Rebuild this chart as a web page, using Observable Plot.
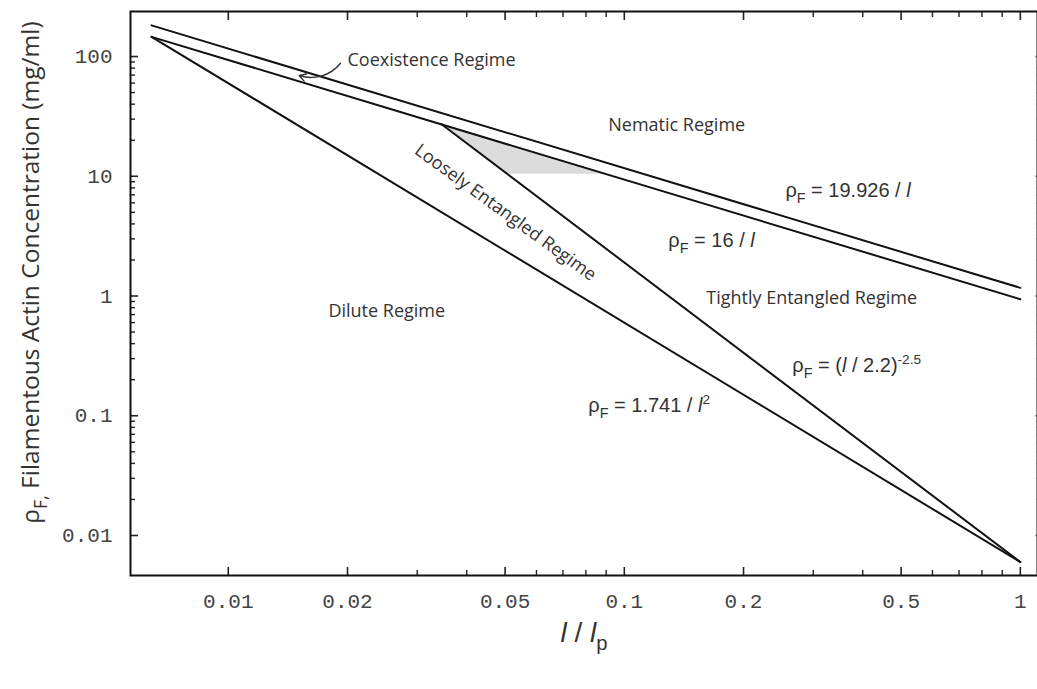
<!DOCTYPE html>
<html>
<head>
<meta charset="utf-8">
<script src="https://cdn.jsdelivr.net/npm/d3@7"></script>
<script src="https://cdn.jsdelivr.net/npm/@observablehq/plot@0.6"></script>
<style>
  body { margin: 0; background: #fff; }
  svg { display: block; }
</style>
</head>
<body>
<div id="chart"></div>
<script>
// Phase boundaries of F-actin solutions: concentration ρF (mg/ml) against ℓ/ℓp.
// Each boundary is a straight line on log–log axes, given by its two end points.
const nematicX = [0.0064, 1];      // ρF = 19.926 / ℓ
const nematicY = [182, 1.17];
const isotropicX = [0.0064, 1];    // ρF = 16 / ℓ
const isotropicY = [146, 0.94];
const diluteX = [0.0064, 1];       // ρF = 1.741 / ℓ²
const diluteY = [146, 0.0060];
const tightX = [0.0345, 1];        // ρF = (ℓ / 2.2)^-2.5
const tightY = [27.3, 0.0060];

// Shaded pocket between the tight-entanglement line, ρF = 16/ℓ and ρF ≈ 10
const shadeX = [0.0345, 0.0507, 0.0905];
const shadeLow = [27.3, 10.4, 10.4];
const shadeHigh = [27.3, 18.6, 10.4];

// Axis ticks and their labels
const xMajor = [0.01, 0.02, 0.05, 0.1, 0.2, 0.5, 1];
const xMajorLabels = ["0.01", "0.02", "0.05", "0.1", "0.2", "0.5", "1"];
const xMinor = [0.03, 0.04, 0.06, 0.07, 0.08, 0.09, 0.3, 0.4, 0.6, 0.7, 0.8, 0.9];
const yMajor = [0.01, 0.1, 1, 10, 100];
const yMajorLabels = ["0.01", "0.1", "1", "10", "100"];
const yMinor = [2, 3, 4, 5, 6, 7, 8, 9]
  .flatMap(m => [0.01, 0.1, 1, 10].map(d => +(m * d).toPrecision(3)));

// Region names and boundary formulas (markup: _{sub}, ^{sup}, *italic*)
const regimeLabels = [
  {text: "Coexistence Regime", x: 0.0200, y: 92.6},
  {text: "Nematic Regime", x: 0.0911, y: 26.5},
  {text: "Tightly Entangled Regime", x: 0.161, y: 0.953},
  {text: "Dilute Regime", x: 0.0179, y: 0.742}
];
const slantedLabel = [{text: "Loosely Entangled Regime", x: 0.0501, y: 4.98}];
const formulaLabels = [
  {text: "ρ_{F} = 19.926 / *l*", x: 0.2551, y: 7.60},
  {text: "ρ_{F} = 16 / *l*", x: 0.1292, y: 2.91},
  {text: "ρ_{F} = 1.741 / *l*^{2}", x: 0.0811, y: 0.1218},
  {text: "ρ_{F} = (*l* / 2.2)^{-2.5}", x: 0.2656, y: 0.2628}
];
const pointer = [{x1: 0.0192, y1: 87.9, x2: 0.0151, y2: 69.4}];

const boundaries = [
  ["nematic", nematicX, nematicY],
  ["isotropic", isotropicX, isotropicY],
  ["dilute", diluteX, diluteY],
  ["tight", tightX, tightY]
].flatMap(([name, xs, ys]) => xs.map((x, i) => ({name, x, y: ys[i]})));

const shade = shadeX.map((x, i) => ({x, lo: shadeLow[i], hi: shadeHigh[i]}));
const xTickRows = xMajor.map((x, i) => ({x, label: xMajorLabels[i]}));
const yTickRows = yMajor.map((y, i) => ({y, label: yMajorLabels[i]}));

const tickFont = "'Liberation Mono', 'DejaVu Sans Mono', monospace";
const labelFont = "'Open Sans', 'Noto Sans', sans-serif";
const formulaFont = "'Liberation Sans', Arial, sans-serif";
const ink = "#222";
const textInk = "#333";

const chart = Plot.plot({
  width: 1037,
  height: 689,
  marginLeft: 130,
  marginRight: 0,
  marginTop: 11,
  marginBottom: 114,
  x: {type: "log", domain: [0.005663, 1.105]},
  y: {type: "log", domain: [0.004634, 237.7]},
  style: {background: "#fff"},
  marks: [
    Plot.areaY(shade, {x: "x", y1: "lo", y2: "hi", fill: "#dcdcdc"}),
    Plot.line(boundaries, {x: "x", y: "y", z: "name", stroke: "#111", strokeWidth: 2}),

    // inward tick marks on all four sides
    Plot.axisX({anchor: "bottom", ticks: xMajor, tickSize: -8, text: null, stroke: ink, strokeWidth: 1.6, label: null}),
    Plot.axisX({anchor: "bottom", ticks: xMinor, tickSize: -5, text: null, stroke: ink, strokeWidth: 1.4, label: null}),
    Plot.axisX({anchor: "top", ticks: xMajor, tickSize: -8, text: null, stroke: ink, strokeWidth: 1.6, label: null}),
    Plot.axisX({anchor: "top", ticks: xMinor, tickSize: -5, text: null, stroke: ink, strokeWidth: 1.4, label: null}),
    Plot.axisY({anchor: "left", ticks: yMajor, tickSize: -8, text: null, stroke: ink, strokeWidth: 1.6, label: null}),
    Plot.axisY({anchor: "left", ticks: yMinor, tickSize: -5, text: null, stroke: ink, strokeWidth: 1.4, label: null}),
    Plot.axisY({anchor: "right", ticks: yMajor, tickSize: -3, text: null, stroke: "#999", strokeWidth: 1.4, label: null}),
    Plot.axisY({anchor: "right", ticks: yMinor, tickSize: -2, text: null, stroke: "#ccc", strokeWidth: 1.2, label: null}),

    // tick labels
    Plot.text(xTickRows, {x: "x", text: "label", frameAnchor: "bottom", textAnchor: "middle",
      lineAnchor: "top", dy: 18, fontFamily: tickFont, fontSize: 21, fill: "#444"}),
    Plot.text(yTickRows, {y: "y", text: "label", frameAnchor: "left", textAnchor: "end",
      dx: -18, fontFamily: tickFont, fontSize: 21, fill: "#444"}),

    // frame: left, top and bottom edges (the right edge falls just outside the page)
    Plot.frame({stroke: "#111", strokeWidth: 2}),

    Plot.arrow(pointer, {x1: "x1", y1: "y1", x2: "x2", y2: "y2", bend: 35, stroke: textInk, strokeWidth: 1.4, headLength: 8}),

    Plot.text(regimeLabels, {x: "x", y: "y", text: "text", textAnchor: "start",
      fontFamily: labelFont, fontSize: 18, fill: textInk}),
    Plot.text(slantedLabel, {x: "x", y: "y", text: "text", textAnchor: "middle", rotate: 36,
      fontFamily: labelFont, fontSize: 18, fill: textInk}),
    Plot.text(formulaLabels, {x: "x", y: "y", text: "text", textAnchor: "start",
      fontFamily: formulaFont, fontSize: 20, fill: textInk}),

    // axis titles
    Plot.text(["*l* / *l*_{p}"], {text: d => d, frameAnchor: "bottom", textAnchor: "middle", dy: 66,
      fontFamily: formulaFont, fontSize: 28, fill: textInk}),
    Plot.text(["ρ_{F,} Filamentous Actin Concentration (mg/ml)"], {text: d => d, frameAnchor: "left",
      textAnchor: "middle", dx: -99, dy: -21, rotate: -90, fontFamily: labelFont, fontSize: 24.5, fill: textInk})
  ]
});

document.getElementById("chart").append(chart);

// Turn the small markup in label strings into tspans (subscripts, superscripts, italics)
function richText(svg) {
  const token = /(_\{[^}]*\}|\^\{[^}]*\}|\*[^*]+\*)/;
  d3.select(svg).selectAll("text").each(function() {
    const s = this.textContent;
    if (!token.test(s)) return;
    const fs = parseFloat(getComputedStyle(this).fontSize);
    const parts = s.split(token).filter(p => p.length);
    this.textContent = "";
    let offset = 0;
    for (const p of parts) {
      let content = p, target = 0, size = null, italic = false;
      if (p.startsWith("_{")) { content = p.slice(2, -1); target = 0.3 * fs; size = 0.72 * fs; }
      else if (p.startsWith("^{")) { content = p.slice(2, -1); target = -0.42 * fs; size = 0.68 * fs; }
      else if (p.startsWith("*")) { content = p.slice(1, -1); italic = true; }
      const t = d3.select(this).append("tspan").text(content);
      if (target !== offset) t.attr("dy", (target - offset).toFixed(2));
      if (size) t.attr("font-size", size.toFixed(1));
      if (italic) t.attr("font-style", "italic");
      offset = target;
    }
  });
}
richText(chart);
</script>
</body>
</html>
